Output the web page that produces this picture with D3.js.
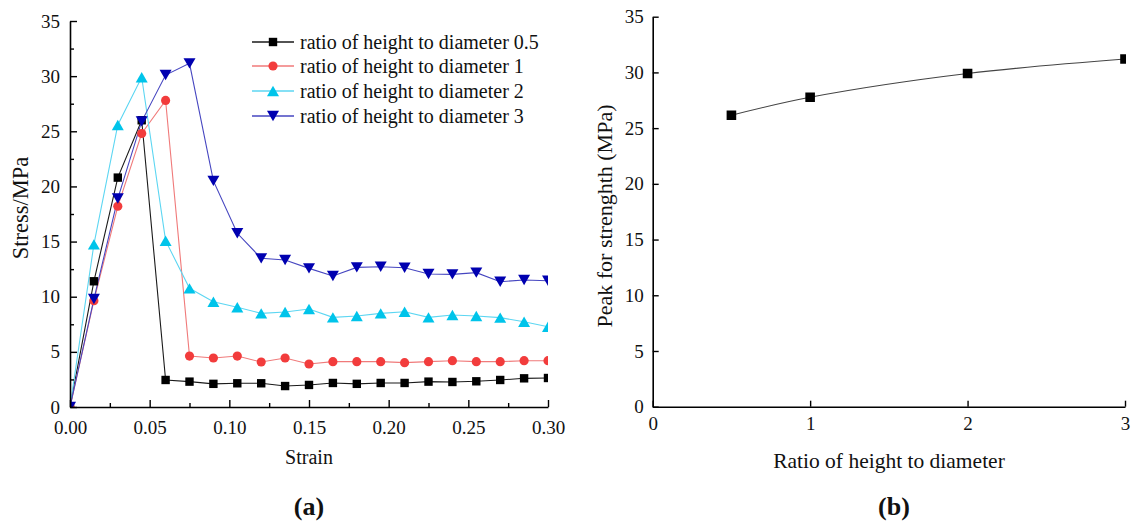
<!DOCTYPE html>
<html><head><meta charset="utf-8">
<script src="https://cdn.jsdelivr.net/npm/d3@7"></script>
<style>
html,body{margin:0;padding:0;background:#fff;}
svg text{font-family:"Liberation Serif","Times New Roman",serif;fill:#111;}
</style>
</head><body>
<svg id="c" width="1135" height="526"></svg>
<script>
// ---------- data ----------
const strain = [0, 0.015, 0.03, 0.045, 0.06, 0.075, 0.09, 0.105, 0.12, 0.135, 0.15, 0.165, 0.18, 0.195, 0.21, 0.225, 0.24, 0.255, 0.27, 0.285, 0.3];
const stress05 = [0, 11.4, 20.8, 26.0, 2.45, 2.3, 2.1, 2.15, 2.15, 1.9, 2.0, 2.18, 2.1, 2.18, 2.18, 2.3, 2.27, 2.33, 2.45, 2.6, 2.63];
const stress1 = [0, 9.64, 18.2, 24.8, 27.8, 4.62, 4.44, 4.62, 4.08, 4.44, 3.9, 4.11, 4.11, 4.11, 4.02, 4.11, 4.2, 4.11, 4.11, 4.2, 4.2];
const stress2 = [0, 14.75, 25.57, 29.9, 15.08, 10.76, 9.55, 9.04, 8.49, 8.61, 8.88, 8.13, 8.25, 8.49, 8.64, 8.13, 8.34, 8.25, 8.1, 7.73, 7.28];
const stress3 = [0, 9.79, 18.9, 25.9, 30.1, 31.16, 20.5, 15.75, 13.48, 13.33, 12.57, 11.88, 12.66, 12.72, 12.63, 12.06, 12.03, 12.18, 11.36, 11.51, 11.45];
const seriesNames = ["ratio of height to diameter 0.5", "ratio of height to diameter 1", "ratio of height to diameter 2", "ratio of height to diameter 3"];
const strainTicks = [0, 0.05, 0.1, 0.15, 0.2, 0.25, 0.3];
const stressTicks = [0, 5, 10, 15, 20, 25, 30, 35];
const ratios = [0.5, 1, 2, 3];
const peaks = [26.16, 27.77, 29.9, 31.2];
const ratioTicks = [0, 1, 2, 3];

// ---------- styles ----------
const styles = [
  {line:"#1a1a1a", mark:"#000000", sym:"square"},
  {line:"#f07a7a", mark:"#f23c3c", sym:"circle"},
  {line:"#5cd6f2", mark:"#00c4ea", sym:"up"},
  {line:"#4646c0", mark:"#0000b0", sym:"down"}
];
const svg = d3.select("#c");

function symPath(type){
  if(type==="square") return "M-4.2,-4.2H4.2V4.2H-4.2Z";
  if(type==="circle") return d3.symbol(d3.symbolCircle, 66)();
  if(type==="up") return "M0,-5.2L6,5.2L-6,5.2Z";
  if(type==="down") return "M0,5.2L6,-5.2L-6,-5.2Z";
}

// ---------- chart (a) ----------
const A = {l:70, r:548, t:21, b:407};
const xa = d3.scaleLinear().domain([0,0.3]).range([A.l, A.r]);
const ya = d3.scaleLinear().domain([0,35]).range([A.b, A.t]);
svg.append("clipPath").attr("id","clipA").append("rect")
  .attr("x",A.l).attr("y",A.t-8).attr("width",A.r-A.l).attr("height",A.b-A.t+8);

const gA = svg.append("g");
const seriesA = [stress05, stress1, stress2, stress3];
const plotA = gA.append("g").attr("clip-path","url(#clipA)");
seriesA.forEach((vals,i)=>{
  const pts = strain.map((s,j)=>[s, vals[j]]);
  plotA.append("path").datum(pts)
    .attr("fill","none").attr("stroke",styles[i].line).attr("stroke-width",1.1)
    .attr("d", d3.line().x(d=>xa(d[0])).y(d=>ya(d[1])));
});
seriesA.forEach((vals,i)=>{
  const pts = strain.map((s,j)=>[s, vals[j]]);
  plotA.selectAll(null).data(pts).enter().append("path")
    .attr("d", symPath(styles[i].sym))
    .attr("transform", d=>`translate(${xa(d[0])},${ya(d[1])})`)
    .attr("fill", styles[i].mark);
});

function styleAxis(g){
  g.select(".domain").attr("stroke","#000").attr("stroke-width",1.6);
  g.selectAll(".tick line").attr("stroke","#000").attr("stroke-width",1.4);
  g.selectAll(".tick text").style("font-family","'Liberation Serif',serif").attr("fill","#111");
}

// x axis (a)
const xAxA = gA.append("g").attr("transform",`translate(0,${A.b})`)
  .call(d3.axisBottom(xa).tickValues(strainTicks).tickFormat(d3.format(".2f")).tickSizeInner(-7).tickSizeOuter(0).tickPadding(0));
styleAxis(xAxA);
xAxA.selectAll(".tick text").attr("y",13.5).attr("font-size","19px");
gA.append("g").attr("transform",`translate(0,${A.b})`)
  .call(d3.axisBottom(xa).tickValues(d3.range(6).map(k=>strainTicks[k]+0.025)).tickSizeInner(-4).tickSizeOuter(0).tickFormat(""))
  .call(g=>{g.select(".domain").remove(); g.selectAll(".tick line").attr("stroke","#000").attr("stroke-width",1.4);});

// y axis (a)
const yAxA = gA.append("g").attr("transform",`translate(${A.l},0)`)
  .call(d3.axisLeft(ya).tickValues(stressTicks).tickSizeInner(-7).tickSizeOuter(0).tickPadding(0));
styleAxis(yAxA);
yAxA.selectAll(".tick text").attr("x",-10).attr("font-size","19px");
gA.append("g").attr("transform",`translate(${A.l},0)`)
  .call(d3.axisLeft(ya).tickValues(d3.range(7).map(k=>stressTicks[k]+2.5)).tickSizeInner(-4).tickSizeOuter(0).tickFormat(""))
  .call(g=>{g.select(".domain").remove(); g.selectAll(".tick line").attr("stroke","#000").attr("stroke-width",1.4);});

gA.append("text").attr("x",(A.l+A.r)/2).attr("y",464).attr("text-anchor","middle").attr("font-size","20px").text("Strain");
gA.append("text").attr("transform","translate(28,208) rotate(-90)").attr("text-anchor","middle").attr("font-size","22.5px").text("Stress/MPa");
gA.append("text").attr("x",309).attr("y",515).attr("text-anchor","middle").attr("font-size","26px").attr("font-weight","bold").text("(a)");

// legend
const leg = gA.append("g");
const legY = [42, 66, 91, 116];
seriesNames.forEach((name,i)=>{
  leg.append("line").attr("x1",252).attr("x2",294).attr("y1",legY[i]).attr("y2",legY[i])
    .attr("stroke",styles[i].line).attr("stroke-width",1.3);
  leg.append("path").attr("d",symPath(styles[i].sym)).attr("transform",`translate(273,${legY[i]})`).attr("fill",styles[i].mark);
  leg.append("text").attr("x",300).attr("y",legY[i]+6.5).attr("font-size","20px").text(name);
});

// ---------- chart (b) ----------
const B = {l:652.7, r:1125, t:16.7, b:406.7};
const xb = d3.scaleLinear().domain([0,3]).range([B.l, B.r]);
const yb = d3.scaleLinear().domain([0,35]).range([B.b, B.t]);
svg.append("clipPath").attr("id","clipB").append("rect")
  .attr("x",B.l).attr("y",B.t-8).attr("width",B.r-B.l+1).attr("height",B.b-B.t+8);
const gB = svg.append("g");
const ptsB = ratios.map((r,j)=>[r, peaks[j]]);
const plotB = gB.append("g").attr("clip-path","url(#clipB)");
plotB.append("path").datum(ptsB).attr("fill","none").attr("stroke","#444").attr("stroke-width",1.1)
  .attr("d", d3.line().curve(d3.curveCatmullRom.alpha(0.5)).x(d=>xb(d[0])).y(d=>yb(d[1])));
plotB.selectAll(null).data(ptsB).enter().append("path")
  .attr("d","M-4.8,-4.8H4.8V4.8H-4.8Z")
  .attr("transform",d=>`translate(${xb(d[0])},${yb(d[1])})`).attr("fill","#000");

const xAxB = gB.append("g").attr("transform",`translate(0,${B.b})`)
  .call(d3.axisBottom(xb).tickValues(ratioTicks).tickFormat(d3.format("d")).tickSizeInner(-6).tickSizeOuter(0).tickPadding(0));
styleAxis(xAxB);
xAxB.selectAll(".tick text").attr("y",10).attr("font-size","19px");
const yAxB = gB.append("g").attr("transform",`translate(${B.l},0)`)
  .call(d3.axisLeft(yb).tickValues(stressTicks).tickSizeInner(-6).tickSizeOuter(0).tickPadding(0));
styleAxis(yAxB);
yAxB.selectAll(".tick text").attr("x",-9).attr("font-size","19px");

gB.append("text").attr("x",889).attr("y",468).attr("text-anchor","middle").attr("font-size","21.5px").text("Ratio of height to diameter");
gB.append("text").attr("transform","translate(612,216) rotate(-90)").attr("text-anchor","middle").attr("font-size","22px").text("Peak for strenghth (MPa)");
gB.append("text").attr("x",894).attr("y",515).attr("text-anchor","middle").attr("font-size","26px").attr("font-weight","bold").text("(b)");
</script>
</body></html>
